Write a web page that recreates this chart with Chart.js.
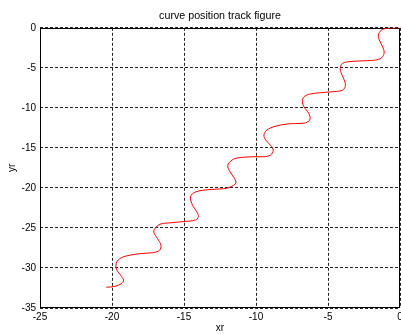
<!DOCTYPE html>
<html>
<head>
<meta charset="utf-8">
<script src="https://cdn.jsdelivr.net/npm/chart.js@4/dist/chart.umd.min.js"></script>
<style>
html,body{margin:0;padding:0;background:#fff;}
#wrap{width:401px;height:334px;position:relative;}
</style>
</head>
<body>
<div id="wrap"><canvas id="c" width="401" height="334"></canvas></div>
<script>
// Track (x = xr, y = yr)
const trackX = [0, -0.5, -0.9, -1.3, -1.5, -1.44, -1.2, -1.1, -1.2, -1.5, -2.25, -3.4, -4.0, -4.15, -4.05, -3.85, -3.8, -4.0, -4.8, -5.5, -6.2, -6.66, -6.78, -6.66, -6.4, -6.25, -6.3, -6.66, -7.8, -8.75, -9.26, -9.45, -9.33, -9.0, -8.8, -9.0, -9.45, -10.0, -11.1, -11.65, -11.96, -11.8, -11.5, -11.4, -11.8, -12.25, -13.2, -14.2, -14.55, -14.4, -14.1, -14.0, -14.2, -15.0, -15.9, -16.6, -16.95, -17.1, -16.85, -16.6, -16.7, -17.2, -18.0, -19.2, -19.66, -19.7, -19.4, -19.2, -19.3, -19.8, -20.4];
const trackY = [0, 0, -0.05, -0.3, -0.9, -1.5, -2.4, -3.0, -3.6, -3.95, -4.1, -4.2, -4.45, -5.1, -5.8, -6.6, -7.3, -7.8, -8.0, -8.1, -8.25, -8.6, -9.2, -9.9, -10.5, -11.1, -11.6, -11.9, -12.0, -12.35, -12.8, -13.4, -14.0, -14.65, -15.3, -15.9, -16.1, -16.1, -16.2, -16.5, -17.2, -18.0, -18.8, -19.4, -19.9, -20.1, -20.2, -20.5, -21.1, -22.2, -23.0, -23.6, -24.0, -24.2, -24.35, -24.5, -24.9, -25.5, -26.3, -27.15, -27.8, -28.1, -28.2, -28.6, -29.2, -30.1, -30.9, -31.5, -31.9, -32.3, -32.4];
const xTicks = [-25, -20, -15, -10, -5, 0];
const yTicks = [0, -5, -10, -15, -20, -25, -30, -35];
const titleText = 'curve position track figure';
const xLabel = 'xr';
const yLabel = 'yr';

const points = trackX.map((x, i) => ({x: x, y: trackY[i]}));
const FONT = {family: '"Liberation Sans", Arial, Helvetica, sans-serif', size: 10};

const boxPlugin = {
  id: 'box',
  beforeDatasetsDraw(chart) {
    const {ctx, chartArea: a} = chart;
    ctx.save();
    ctx.strokeStyle = '#000';
    ctx.lineWidth = 1;
    ctx.setLineDash([]);
    ctx.strokeRect(Math.round(a.left) + 0.5, Math.round(a.top) + 0.5,
                   Math.round(a.right) - Math.round(a.left) - 1, Math.round(a.bottom) - Math.round(a.top) - 1);
    ctx.restore();
  }
};

new Chart(document.getElementById('c'), {
  type: 'scatter',
  data: {
    datasets: [{
      data: points,
      showLine: true,
      borderColor: '#ff0000',
      borderWidth: 1,
      pointRadius: 0,
      tension: 0.35,
      fill: false
    }]
  },
  options: {
    responsive: false,
    animation: false,
    layout: {padding: {left: 0, right: 1, top: 0, bottom: 0}},
    plugins: {
      legend: {display: false},
      tooltip: {enabled: false},
      title: {
        display: true,
        fullSize: false,
        text: titleText,
        color: '#000',
        font: {family: FONT.family, size: 10.7, weight: 'normal', lineHeight: 1.2},
        padding: {top: 10, bottom: 5}
      }
    },
    scales: {
      x: {
        type: 'linear',
        min: -25, max: 0,
        afterBuildTicks: s => { s.ticks = xTicks.map(v => ({value: v})); },
        afterFit: s => { s.height = 26; s.paddingLeft = 0; s.paddingRight = 0; },
        ticks: {color: '#000', font: FONT, padding: 3, maxRotation: 0, autoSkip: false},
        grid: {color: '#222', lineWidth: 1, drawTicks: false},
        border: {display: false, dash: [3, 2]},
        title: {display: true, text: xLabel, color: '#000', font: FONT, padding: {top: 0, bottom: 0}}
      },
      y: {
        type: 'linear',
        min: -35, max: 0,
        afterBuildTicks: s => { s.ticks = yTicks.map(v => ({value: v})); },
        afterFit: s => { s.width = 40; s.paddingTop = 0; s.paddingBottom = 0; },
        ticks: {color: '#000', font: FONT, padding: 4, autoSkip: false},
        grid: {color: '#222', lineWidth: 1, drawTicks: false},
        border: {display: false, dash: [3, 2]},
        title: {display: true, text: yLabel, color: '#000', font: FONT, padding: {top: 6, bottom: 0}}
      }
    }
  },
  plugins: [boxPlugin]
});
</script>
</body>
</html>
